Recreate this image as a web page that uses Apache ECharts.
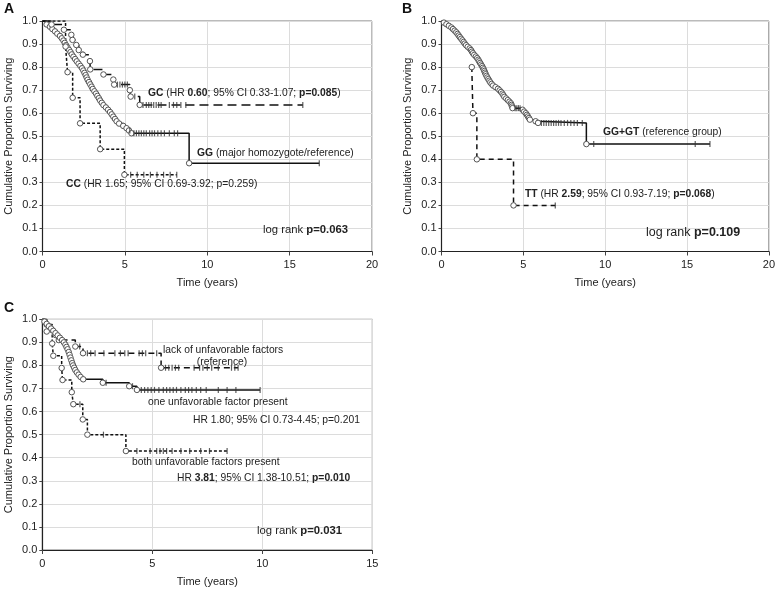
<!DOCTYPE html>
<html><head><meta charset="utf-8">
<script src="https://cdn.jsdelivr.net/npm/echarts@6/dist/echarts.min.js"></script>
<style>html,body{margin:0;padding:0;background:#fff}#c{width:778px;height:591px}</style>
</head><body><div id="c"></div>
<script>
// ---------- Panel A (events: [time, survival]; censored: times) ----------
const A_GG_events = [[0,1],[0.25,0.985],[0.45,0.975],[0.6,0.965],[0.76,0.955],[0.9,0.945],[1.06,0.935],[1.17,0.925],[1.27,0.915],[1.35,0.905],[1.43,0.895],[1.52,0.885],[1.61,0.875],[1.7,0.865],[1.78,0.855],[1.88,0.845],[1.98,0.835],[2.08,0.825],[2.19,0.815],[2.3,0.805],[2.4,0.795],[2.48,0.785],[2.55,0.775],[2.62,0.765],[2.68,0.755],[2.74,0.745],[2.82,0.735],[2.9,0.725],[2.98,0.715],[3.05,0.705],[3.15,0.695],[3.25,0.685],[3.33,0.675],[3.42,0.665],[3.5,0.655],[3.6,0.645],[3.7,0.635],[3.85,0.625],[3.98,0.615],[4.1,0.605],[4.2,0.595],[4.3,0.585],[4.4,0.575],[4.5,0.565],[4.65,0.555],[4.9,0.545],[5.1,0.535],[5.25,0.525],[5.4,0.513],[8.9,0.383]];
const A_GG_censored = [5.3,5.55,5.7,5.85,6.0,6.15,6.3,6.5,6.65,6.8,7.0,7.2,7.4,7.7,8.0,8.2,16.8];
const A_GC_events = [[0,1],[0.55,0.985],[1.3,0.962],[1.75,0.94],[1.82,0.918],[2.05,0.896],[2.2,0.874],[2.45,0.854],[2.88,0.826],[2.9,0.79],[3.7,0.768],[4.3,0.746],[4.35,0.724],[5.3,0.70],[5.35,0.672],[5.9,0.636]];
const A_GC_censored = [4.55,4.7,4.85,5.0,5.15,5.6,6.1,6.3,6.45,6.6,6.75,6.9,7.05,7.2,7.7,7.95,8.15,8.4,8.7,15.8];
const A_CC_events = [[0,1],[1.4,0.889],[1.52,0.778],[1.83,0.667],[2.28,0.556],[3.5,0.444],[4.97,0.333]];
const A_CC_censored = [5.35,5.75,6.15,6.55,6.95,7.35,7.75,8.15];

// ---------- Panel B ----------
const B_GGGT_events = [[0,1],[0.15,0.993],[0.3,0.986],[0.45,0.979],[0.6,0.972],[0.7,0.965],[0.8,0.958],[0.9,0.951],[0.98,0.944],[1.05,0.937],[1.12,0.93],[1.2,0.923],[1.28,0.916],[1.35,0.909],[1.42,0.902],[1.5,0.895],[1.6,0.888],[1.72,0.881],[1.8,0.874],[1.86,0.867],[1.92,0.86],[2.0,0.853],[2.1,0.846],[2.18,0.839],[2.25,0.832],[2.3,0.825],[2.36,0.818],[2.42,0.811],[2.48,0.804],[2.53,0.797],[2.58,0.79],[2.62,0.783],[2.66,0.776],[2.7,0.769],[2.75,0.762],[2.8,0.755],[2.86,0.748],[2.92,0.741],[2.98,0.734],[3.06,0.727],[3.15,0.72],[3.3,0.713],[3.45,0.706],[3.55,0.699],[3.64,0.692],[3.72,0.685],[3.78,0.678],[3.84,0.671],[3.95,0.664],[4.05,0.657],[4.15,0.65],[4.24,0.643],[4.28,0.636],[4.31,0.629],[4.34,0.622],[4.95,0.615],[5.05,0.607],[5.15,0.6],[5.22,0.593],[5.28,0.586],[5.34,0.579],[5.4,0.572],[5.75,0.565],[5.9,0.558],[8.85,0.466]];
const B_GGGT_censored = [4.5,4.6,4.7,4.8,6.1,6.25,6.4,6.55,6.7,6.85,7.0,7.15,7.3,7.5,7.7,7.9,8.1,8.3,8.6,9.3,15.5,16.4];
const B_TT_events = [[1.85,0.8],[1.92,0.6],[2.16,0.4],[4.4,0.2]];
const B_TT_censored = [6.95];

// ---------- Panel C ----------
const C_lack_events = [[0,1],[0.2,0.977],[0.45,0.954],[0.6,0.932],[0.75,0.91],[1.5,0.882],[1.85,0.853],[5.4,0.79]];
const C_lack_censored = [1.7,2.05,2.2,2.4,2.8,3.3,3.55,3.75,3.9,4.4,4.55,4.7,5.2,5.6,5.75,5.9,6.05,6.2,6.9,7.15,7.3,7.5,7.7,8.0,8.6,8.75,8.9];
const C_one_events = [[0,1],[0.1,0.99],[0.2,0.98],[0.3,0.97],[0.4,0.96],[0.5,0.95],[0.6,0.94],[0.7,0.93],[0.8,0.92],[0.9,0.91],[0.98,0.9],[1.05,0.89],[1.1,0.88],[1.15,0.87],[1.2,0.858],[1.24,0.846],[1.28,0.834],[1.32,0.822],[1.36,0.81],[1.4,0.8],[1.45,0.79],[1.5,0.78],[1.57,0.77],[1.65,0.76],[1.74,0.75],[1.86,0.74],[2.75,0.725],[3.95,0.71],[4.3,0.694]];
const C_one_censored = [2.9,4.1,4.5,4.65,4.8,4.95,5.1,5.3,5.5,5.65,5.8,5.95,6.1,6.3,6.5,6.65,6.8,7.0,7.2,7.45,8.0,8.4,8.8,9.9];
const C_both_events = [[0,1],[0.2,0.947],[0.45,0.895],[0.5,0.842],[0.88,0.789],[0.92,0.737],[1.34,0.684],[1.41,0.632],[1.84,0.566],[2.05,0.5],[3.8,0.429]];
const C_both_censored = [1.71,2.78,4.3,4.9,5.2,5.35,5.5,5.65,5.9,6.3,6.7,7.2,7.6,8.4];

const xTicksAB = {min:0, max:20, interval:5};
const xTicksC = {min:0, max:15, interval:5};
const yTicks = {min:0, max:1, interval:0.1};

// ---------- helpers ----------
const FONT = '"Liberation Sans", Arial, sans-serif';
function survAt(events, t){ let s = events[0][1]; for (const p of events){ if (p[0] <= t) s = p[1]; } return s; }
function kmLine(events, censored, idx, dash){
  const last = events[events.length-1];
  const data = events.map(p => ({value:p, symbol: p[0] === 0 ? 'none' : 'circle'}));
  const lastC = censored.length ? Math.max(...censored) : -1;
  if (lastC > last[0]) data.push({value:[lastC, last[1]], symbol:'none'});
  return {type:'line', xAxisIndex:idx, yAxisIndex:idx, step:'end', data:data, symbolSize:5.5, showAllSymbol:true,
    lineStyle:{color:'#111', width:1.5, type:dash}, itemStyle:{color:'#fff', borderColor:'#555', borderWidth:1},
    z:3, animation:false, silent:true};
}
function censorMarks(events, censored, idx){
  return {type:'scatter', xAxisIndex:idx, yAxisIndex:idx, symbol:'rect', symbolSize:[1.2,6],
    data: censored.map(t => [t, survAt(events, t)]), itemStyle:{color:'#333'}, z:4, animation:false, silent:true};
}
function xAx(idx, ticks){
  return {type:'value', gridIndex:idx, min:ticks.min, max:ticks.max, interval:ticks.interval,
    name:'Time (years)', nameLocation:'middle', nameGap:26, nameTextStyle:{fontFamily:FONT, fontSize:11, color:'#222'},
    axisLine:{show:true, onZero:false, lineStyle:{color:'#222', width:1.2}}, axisTick:{show:true, length:4, lineStyle:{color:'#444'}},
    axisLabel:{fontFamily:FONT, fontSize:11, color:'#222', margin:8},
    splitLine:{show:true, lineStyle:{color:'#dcdcdc', width:1}}};
}
function yAx(idx){
  return {type:'value', gridIndex:idx, min:yTicks.min, max:yTicks.max, interval:yTicks.interval,
    name:'Cumulative Proportion Surviving', nameLocation:'middle', nameGap:28, nameTextStyle:{fontFamily:FONT, fontSize:11, color:'#222'},
    axisLine:{show:true, onZero:false, lineStyle:{color:'#222', width:1.2}}, axisTick:{show:true, length:3, lineStyle:{color:'#444'}},
    axisLabel:{fontFamily:FONT, fontSize:11, color:'#222', margin:5, formatter: v => v.toFixed(1)},
    splitLine:{show:true, lineStyle:{color:'#dcdcdc', width:1}}};
}
const rich = fs => ({b:{fontWeight:'bold', fontSize:fs, fontFamily:FONT, fill:'#222', color:'#222'}, n:{fontSize:fs, fontFamily:FONT, fill:'#222', color:'#222'}});
function txt(x, y, text, fs, align){
  return {type:'text', x:x, y:y, silent:true, z:10, style:{text:text, rich:rich(fs), fontSize:fs, fontFamily:FONT, fill:'#222', align:align||'left', verticalAlign:'middle'}};
}
function letter(x, y, s){
  return {type:'text', x:x, y:y, z:10, style:{text:s, fontSize:14, fontWeight:'bold', fontFamily:FONT, fill:'#111', verticalAlign:'middle'}};
}

const option = {
  animation:false,
  backgroundColor:'#fff',
  grid:[
    {left:42.5, top:21, width:329.5, height:230.5, show:true, borderColor:'#777', borderWidth:1, backgroundColor:'transparent'},
    {left:441.5, top:21, width:329.5, height:230.5, show:true, borderColor:'#777', borderWidth:1, backgroundColor:'transparent'},
    {left:42.3, top:319.3, width:330, height:230.7, show:true, borderColor:'#777', borderWidth:1, backgroundColor:'transparent'}
  ],
  xAxis:[xAx(0, xTicksAB), xAx(1, xTicksAB), xAx(2, xTicksC)],
  yAxis:[yAx(0), yAx(1), yAx(2)],
  series:[
    kmLine(A_GG_events, A_GG_censored, 0, 'solid'), censorMarks(A_GG_events, A_GG_censored, 0),
    kmLine(A_GC_events, A_GC_censored, 0, [9,5]), censorMarks(A_GC_events, A_GC_censored, 0),
    kmLine(A_CC_events, A_CC_censored, 0, [3,2]), censorMarks(A_CC_events, A_CC_censored, 0),
    kmLine(B_GGGT_events, B_GGGT_censored, 1, 'solid'), censorMarks(B_GGGT_events, B_GGGT_censored, 1),
    kmLine(B_TT_events, B_TT_censored, 1, [5,4]), censorMarks(B_TT_events, B_TT_censored, 1),
    kmLine(C_lack_events, C_lack_censored, 2, [6,4]), censorMarks(C_lack_events, C_lack_censored, 2),
    kmLine(C_one_events, C_one_censored, 2, 'solid'), censorMarks(C_one_events, C_one_censored, 2),
    kmLine(C_both_events, C_both_censored, 2, [3,2]), censorMarks(C_both_events, C_both_censored, 2)
  ],
  graphic:[
    letter(4, 9, 'A'), letter(402, 9, 'B'), letter(4, 308, 'C'),
    txt(148, 92.7, '{b|GC}{n| (HR }{b|0.60}{n|; 95% CI 0.33-1.07; }{b|p=0.085}{n|)}', 10.3),
    txt(197, 152.7, '{b|GG}{n| (major homozygote/reference)}', 10.3),
    txt(66, 184.3, '{b|CC}{n| (HR 1.65; 95% CI 0.69-3.92; p=0.259)}', 10.3),
    txt(263, 230, '{n|log rank }{b|p=0.063}', 11.3),
    txt(603, 132.5, '{b|GG+GT}{n| (reference group)}', 10.3),
    txt(525, 194, '{b|TT}{n| (HR }{b|2.59}{n|; 95% CI 0.93-7.19; }{b|p=0.068}{n|)}', 10.3),
    txt(646, 232.3, '{n|log rank }{b|p=0.109}', 12.5),
    txt(163, 350, '{n|lack of unfavorable factors}', 10.3),
    txt(222, 361.7, '{n|(reference)}', 10.3, 'center'),
    txt(148, 401.7, '{n|one unfavorable factor present}', 10.3),
    txt(193, 420, '{n|HR 1.80; 95% CI 0.73-4.45; p=0.201}', 10.3),
    txt(132, 461.7, '{n|both unfavorable factors present}', 10.3),
    txt(177, 477.7, '{n|HR }{b|3.81}{n|; 95% CI 1.38-10.51; }{b|p=0.010}', 10.3),
    txt(257, 530.7, '{n|log rank }{b|p=0.031}', 11.3)
  ]
};
const chart = echarts.init(document.getElementById('c'), null, {renderer:'canvas'});
chart.setOption(option);
</script>
</body></html>
